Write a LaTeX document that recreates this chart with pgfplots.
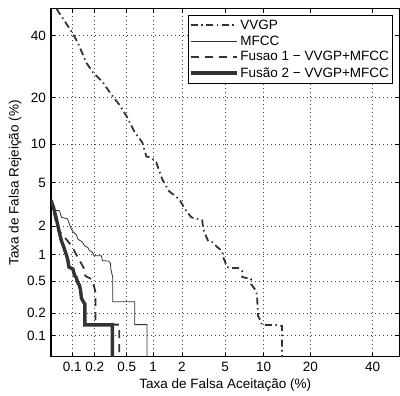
\documentclass[border=0pt]{standalone}
\usepackage{fontspec}
\setmainfont{Liberation Sans}
\usepackage{pgfplots}
\pgfplotsset{compat=1.18}
\usetikzlibrary{calc}
\definecolor{ln}{gray}{0.2}
\begin{document}
\begin{tikzpicture}
\begin{axis}[
  name=ax,
  width=348.5bp, height=348bp, scale only axis,
  xmin=-3.2905, xmax=0, ymin=-3.2905, ymax=0,
  xtick={-3.0902,-2.8782,-2.5758,-2.3263,-2.0537,-1.6449,-1.2816,-0.8416,-0.2533},
  xticklabels={0.1,0.2,0.5,1,2,5,10,20,40},
  ytick={-3.0902,-2.8782,-2.5758,-2.3263,-2.0537,-1.6449,-1.2816,-0.8416,-0.2533},
  yticklabels={0.1,0.2,0.5,1,2,5,10,20,40},
  tick label style={font=\fontsize{13.5bp}{16bp}\selectfont},
  xticklabel style={yshift=-2bp},
  yticklabel style={xshift=-1.5bp},
  label style={font=\fontsize{13.5bp}{16bp}\selectfont},
  xlabel={Taxa de Falsa Aceitação (\%)},
  ylabel={Taxa de Falsa Rejeição (\%)},
  xlabel style={yshift=0bp},
  ylabel style={yshift=-1bp},
  tick align=inside, major tick length=4bp,
  every tick/.style={black, line width=0.8bp},
  axis line style={line width=1.2bp},
  grid=major,
  major grid style={black!75, line width=0.7bp, dash pattern=on 1bp off 3bp},
  clip=true,
  legend cell align=left,
  legend style={at={(1,1)}, anchor=north east, xshift=-7bp, yshift=-6bp,
    font=\fontsize{13.5bp}{16bp}\selectfont, draw=black, line width=0.9bp,
    inner xsep=1bp, inner ysep=2.5bp, row sep=1bp,
    /tikz/every even column/.append style={column sep=2bp}},
  legend image code/.code={\draw[#1] (0bp,0bp) -- (46bp,0bp);},
]
% VVGP
\addplot[ln, line width=1.8bp, dash pattern=on 7bp off 3.5bp on 1.5bp off 3.5bp] coordinates {
(-3.238,0) (-3.088,-0.228) (-3.041,-0.313) (-2.956,-0.511) (-2.899,-0.596)
(-2.805,-0.690) (-2.720,-0.812) (-2.645,-0.907) (-2.569,-1.029) (-2.503,-1.161)
(-2.428,-1.265) (-2.390,-1.397) (-2.343,-1.406) (-2.296,-1.453) (-2.239,-1.614)
(-2.173,-1.727) (-2.079,-1.802) (-2.023,-1.896) (-1.966,-1.972) (-1.862,-2.000)
(-1.853,-2.085) (-1.806,-2.198) (-1.768,-2.207) (-1.730,-2.245) (-1.674,-2.292)
(-1.664,-2.349) (-1.627,-2.443) (-1.580,-2.452) (-1.523,-2.452) (-1.485,-2.481)
(-1.485,-2.537) (-1.401,-2.556) (-1.401,-2.603) (-1.353,-2.669) (-1.344,-2.726)
(-1.335,-2.905) (-1.306,-2.961) (-1.297,-2.990) (-1.174,-2.990) (-1.108,-2.999)
(-1.108,-3.2905)};
\addlegendentry{VVGP}
% MFCC
\addplot[ln, line width=0.8bp] coordinates {
(-3.2905,-1.802) (-3.257,-1.906) (-3.210,-1.910) (-3.191,-1.972) (-3.135,-1.986)
(-3.116,-2.038) (-3.097,-2.085) (-3.074,-2.118) (-3.050,-2.141) (-3.036,-2.179)
(-2.993,-2.207) (-2.975,-2.240) (-2.942,-2.259) (-2.927,-2.287) (-2.899,-2.302)
(-2.885,-2.335) (-2.814,-2.335) (-2.805,-2.382) (-2.748,-2.386) (-2.729,-2.405)
(-2.725,-2.462) (-2.708,-2.537) (-2.708,-2.770) (-2.499,-2.770) (-2.499,-2.987)
(-2.384,-2.987) (-2.384,-3.2905)};
\addlegendentry{MFCC}
% Fusao 1
\addplot[ln, line width=1.8bp, dash pattern=on 8bp off 6bp] coordinates {
(-3.2905,-1.802) (-3.267,-1.915) (-3.238,-2.038) (-3.210,-2.104) (-3.163,-2.160)
(-3.116,-2.217) (-3.078,-2.273) (-3.059,-2.311) (-3.022,-2.377) (-2.975,-2.462)
(-2.965,-2.528) (-2.909,-2.556) (-2.890,-2.603) (-2.871,-2.679) (-2.871,-2.987)
(-2.645,-2.987) (-2.645,-3.2905)};
\addlegendentry{Fusao 1 − VVGP+MFCC}
% Fusao 2
\addplot[ln, line width=3.4bp] coordinates {
(-3.2905,-1.811) (-3.267,-1.877) (-3.243,-1.972) (-3.224,-2.057) (-3.210,-2.123)
(-3.191,-2.198) (-3.172,-2.245) (-3.158,-2.292) (-3.144,-2.330) (-3.130,-2.386)
(-3.121,-2.443) (-3.083,-2.462) (-3.069,-2.518) (-3.050,-2.547) (-3.036,-2.594)
(-3.022,-2.613) (-3.012,-2.660) (-3.003,-2.735) (-2.984,-2.773) (-2.970,-2.792)
(-2.970,-2.990) (-2.711,-2.990) (-2.711,-3.2905)};
\addlegendentry{Fusão 2 − VVGP+MFCC}
\end{axis}
\pgfresetboundingbox
\path[use as bounding box] ($(ax.south west)+(-51bp,-38.3bp)$) rectangle ($(ax.north east)+(0.6bp,8.8bp)$);
\end{tikzpicture}
\end{document}
